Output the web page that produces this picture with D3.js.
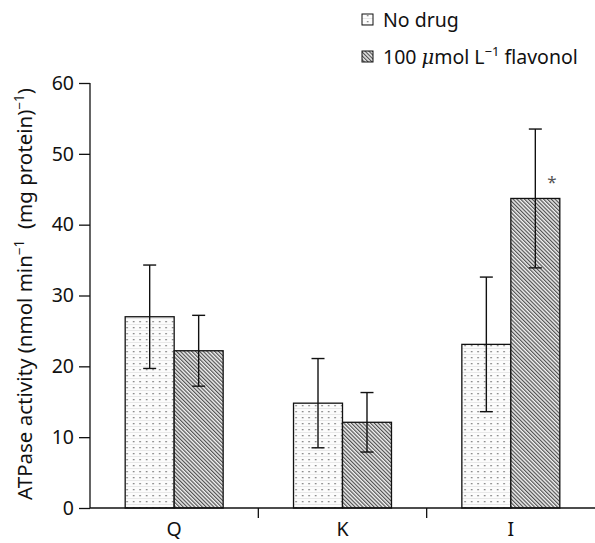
<!DOCTYPE html>
<html>
<head>
<meta charset="utf-8">
<script src="https://cdn.jsdelivr.net/npm/d3@7"></script>
<style>
  body { margin: 0; background: #fff; }
  text { font-family: "Noto Sans", "Open Sans", sans-serif; fill: #111; }
</style>
</head>
<body>
<div id="chart"></div>
<script>
// groups and series
let groups = ["Q", "K", "I"];
let seriesNames = ["No drug", "100 flavonol"];
let noDrug = [27.0, 14.8, 23.1];
let noDrugErr = [7.3, 6.3, 9.5];
let flavonol = [22.2, 12.1, 43.7];
let flavonolErr = [5.0, 4.2, 9.8];
let yTicks = [0, 10, 20, 30, 40, 50, 60];
let starred = [false, false, true];

var width = 595, height = 543;
var fs = 19.5;
var svg = d3.select('#chart')
    .append('svg')
    .attr('width', width)
    .attr('height', height);

var defs = svg.append('defs');

// dotted fill
var dots = defs.append('pattern')
    .attr('id', 'dots')
    .attr('patternUnits', 'userSpaceOnUse')
    .attr('width', 6.5)
    .attr('height', 6);
dots.append('rect').attr('width', 6.5).attr('height', 6).attr('fill', '#fcfcfc');
dots.append('line').attr('x1', 0).attr('x2', 6.5).attr('y1', 0.5).attr('y2', 0.5)
    .attr('stroke', '#e8e8e8').attr('stroke-width', 1);
dots.append('rect').attr('x', 3).attr('y', 3).attr('width', 1.3).attr('height', 1.3).attr('fill', '#666');

// hatched fill
var hatch = defs.append('pattern')
    .attr('id', 'hatch')
    .attr('patternUnits', 'userSpaceOnUse')
    .attr('width', 2.7)
    .attr('height', 2.7)
    .attr('patternTransform', 'rotate(-45)');
hatch.append('rect').attr('width', 2.7).attr('height', 2.7).attr('fill', '#f2f2f2');
hatch.append('line').attr('x1', 0.6).attr('x2', 0.6).attr('y1', 0).attr('y2', 2.7)
    .attr('stroke', '#505050').attr('stroke-width', 1.2);

var x = d3.scaleBand()
    .domain(groups)
    .range([90, 595])
    .paddingInner(0.418)
    .paddingOuter(0.209);

var xSub = d3.scaleBand()
    .domain([0, 1])
    .range([0, x.bandwidth()]);

var y = d3.scaleLinear()
    .domain([0, 60])
    .range([508, 83]);

var data = [];
groups.forEach(function (g, i) {
    data.push({ group: g, s: 0, value: noDrug[i], err: noDrugErr[i] });
    data.push({ group: g, s: 1, value: flavonol[i], err: flavonolErr[i] });
});

// bars
svg.append('g')
    .selectAll('rect')
    .data(data)
    .enter()
    .append('rect')
    .attr('x', function (d) { return x(d.group) + xSub(d.s); })
    .attr('y', function (d) { return y(d.value); })
    .attr('width', xSub.bandwidth())
    .attr('height', function (d) { return y(0) - y(d.value); })
    .attr('fill', function (d) { return d.s == 0 ? 'url(#dots)' : 'url(#hatch)'; })
    .attr('stroke', '#111')
    .attr('stroke-width', 1.3);

// error bars
var eb = svg.append('g')
    .attr('stroke', '#111')
    .attr('stroke-width', 1.4);
data.forEach(function (d) {
    var cx = x(d.group) + xSub(d.s) + xSub.bandwidth() / 2;
    eb.append('line').attr('x1', cx).attr('x2', cx)
        .attr('y1', y(d.value + d.err)).attr('y2', y(d.value - d.err));
    eb.append('line').attr('x1', cx - 6.5).attr('x2', cx + 6.5)
        .attr('y1', y(d.value + d.err)).attr('y2', y(d.value + d.err));
    eb.append('line').attr('x1', cx - 6.5).attr('x2', cx + 6.5)
        .attr('y1', y(d.value - d.err)).attr('y2', y(d.value - d.err));
});

// significance mark
groups.forEach(function (g, i) {
    if (!starred[i]) return;
    svg.append('text')
        .attr('x', x(g) + xSub(1) + xSub.bandwidth() / 2 + 12)
        .attr('y', y(flavonol[i]) - 10)
        .attr('font-size', 17)
        .style('fill', '#555')
        .text('*');
});

// y axis
var yAxis = d3.axisLeft(y)
    .tickValues(yTicks)
    .tickSize(11)
    .tickPadding(5);
var yg = svg.append('g')
    .attr('transform', 'translate(90,0)')
    .call(yAxis);
yg.select('.domain').attr('d', 'M0,' + y(60) + 'V' + y(0)).attr('stroke', '#111').attr('stroke-width', 1.3);
yg.selectAll('.tick line').attr('stroke', '#111').attr('stroke-width', 1.3);
yg.selectAll('.tick text').attr('font-size', fs).attr('font-family', '"Noto Sans", sans-serif').attr('fill', '#111');

// x axis
svg.append('line')
    .attr('x1', 90).attr('x2', 595)
    .attr('y1', y(0)).attr('y2', y(0))
    .attr('stroke', '#111').attr('stroke-width', 1.3);
groups.slice(1).forEach(function (g) {
    var tx = x(g) - x.step() * x.paddingInner() / 2;
    svg.append('line')
        .attr('x1', tx).attr('x2', tx)
        .attr('y1', y(0)).attr('y2', y(0) + 10)
        .attr('stroke', '#111').attr('stroke-width', 1.3);
});
svg.append('g')
    .selectAll('text')
    .data(groups)
    .enter()
    .append('text')
    .attr('x', function (d) { return x(d) + x.bandwidth() / 2; })
    .attr('y', 536)
    .attr('text-anchor', 'middle')
    .attr('font-size', fs)
    .text(function (d) { return d; });

// y label
var yl = svg.append('text')
    .attr('transform', 'translate(32,' + 294 + ') rotate(-90)')
    .attr('text-anchor', 'middle')
    .attr('font-size', 20.5);
yl.append('tspan').text('ATPase activity (nmol min');
yl.append('tspan').attr('dy', -8).attr('font-size', 13.5).text('\u22121');
yl.append('tspan').attr('dy', 8).text('\u00a0 (mg protein)');
yl.append('tspan').attr('dy', -8).attr('font-size', 13.5).text('\u22121');
yl.append('tspan').attr('dy', 8).text(')');

// legend
var leg = svg.append('g');
[0, 1].forEach(function (s) {
    var ly = 20 + s * 37;
    leg.append('rect')
        .attr('x', 362).attr('y', ly - 6)
        .attr('width', 11).attr('height', 11)
        .attr('fill', s == 0 ? 'url(#dots)' : 'url(#hatch)')
        .attr('stroke', '#111').attr('stroke-width', 1);
    var t = leg.append('text')
        .attr('x', 383).attr('y', ly + 7)
        .attr('font-size', fs);
    if (s == 0) {
        t.text(seriesNames[0]);
    } else {
        t.append('tspan').text('100 ');
        t.append('tspan').attr('font-style', 'italic').attr('font-family', '"DejaVu Serif", serif').text('\u03bc');
        t.append('tspan').text('mol L');
        t.append('tspan').attr('dy', -8).attr('font-size', 13).text('\u22121');
        t.append('tspan').attr('dy', 8).text(' flavonol');
    }
});
</script>
</body>
</html>
